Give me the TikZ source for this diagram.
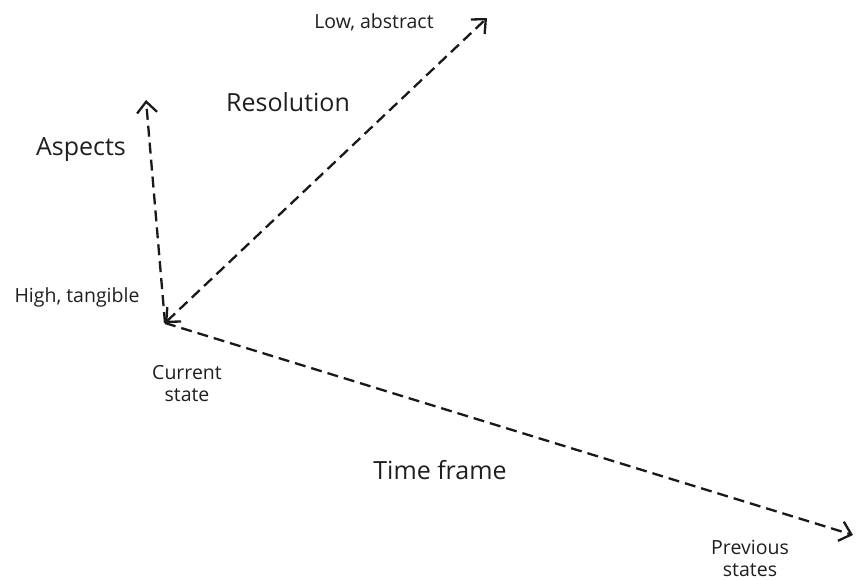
\documentclass[tikz,border=0pt]{standalone}
\usepackage{fontspec}
\setmainfont{Open Sans}
\usetikzlibrary{arrows.meta}
\begin{document}
\begin{tikzpicture}[x=1pt, y=-1pt,
  >={Straight Barb[length=11pt,width=20pt]},
  axis/.style={dash pattern=on 11pt off 6pt, line width=2.3pt, black!90},
  small/.style={font=\fontsize{19.5}{22}\selectfont, align=center, text=black!88, inner sep=0pt},
  big/.style={font=\fontsize{25}{30}\selectfont, text=black!88, inner sep=0pt}]

  \useasboundingbox (0,0) rectangle (856,580);

  % --- Punto de partida y extremos de los ejes ---
  \coordinate (cur) at (165,323);
  \coordinate (asptip) at (146,100);
  \coordinate (restip) at (487,18);
  \coordinate (timetip) at (853,535);

  % --- Ejes ---
  \draw[axis, ->] (cur) -- (asptip);
  \draw[axis, <->] (cur) -- (restip);
  \draw[axis, ->] (cur) -- (timetip);

  % --- Etiquetas ---
  \node[big] (aspects) at (81,150) {Aspects};
  \node[big] (resolution) at (288,102) {Resolution};
  \node[big] (timeframe) at (440,470) {Time frame};
  \node[small] (low) at (374,22) {Low, abstract};
  \node[small] (high) at (77,297) {High, tangible};
  \node[small] (current) at (187,384) {Current\\state};
  \node[small] (previous) at (750,558) {Previous\\states};

\end{tikzpicture}
\end{document}
